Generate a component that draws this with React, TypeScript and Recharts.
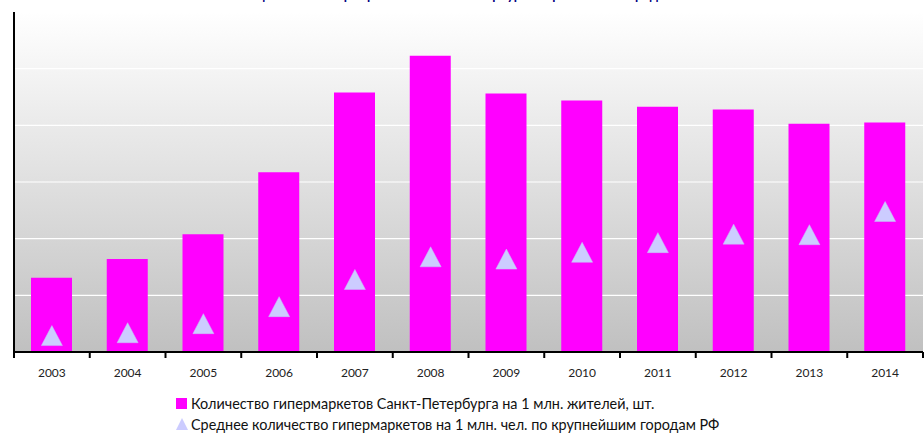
import React from 'react';
import { ComposedChart, Bar, Line, XAxis, YAxis, CartesianGrid, Legend, ReferenceLine } from 'recharts';

const years = ['2003', '2004', '2005', '2006', '2007', '2008', '2009', '2010', '2011', '2012', '2013', '2014'];
const spbValues = [1.31, 1.64, 2.08, 3.17, 4.58, 5.23, 4.56, 4.44, 4.33, 4.28, 4.03, 4.05];
const avgValues = [0.29, 0.34, 0.5, 0.8, 1.28, 1.68, 1.64, 1.76, 1.93, 2.08, 2.07, 2.48];
const yTicks = [0, 1, 2, 3, 4, 5, 6];
const gridValues = [1, 2, 3, 4, 5, 6];

const seriesSpb = 'Количество гипермаркетов Санкт-Петербурга на 1 млн. жителей, шт.';
const seriesAvg = 'Среднее количество гипермаркетов на 1 млн. чел. по крупнейшим городам РФ';
const title = 'Насыщенность гипермаркетами Санкт-Петербурга в сравнении с городами РФ';

const data = years.map((y, i) => ({ year: y, spb: spbValues[i], avg: avgValues[i] }));

const FONT = 'Lato, "Open Sans", sans-serif';

const TriangleDot = (props: any) => {
  const { cx, cy } = props;
  if (cx == null || cy == null) return null;
  return (
    <polygon
      points={`${cx},${cy - 10} ${cx + 10.5},${cy + 10} ${cx - 10.5},${cy + 10}`}
      fill="#CCCCFF"
      stroke="#C4C4F8"
      strokeWidth={0.5}
    />
  );
};

const XTick = (props: any) => {
  const { x, y, payload, index, visibleTicksCount } = props;
  const half = payload && payload.offset ? payload.offset : 0;
  const axisY = y - 16;
  const isLast = visibleTicksCount != null ? index === visibleTicksCount - 1 : payload.value === years[years.length - 1];
  return (
    <g>
      <line x1={x - half} x2={x - half} y1={axisY} y2={axisY + 6} stroke="#000" strokeWidth={2} />
      {isLast && <line x1={x + half} x2={x + half} y1={axisY} y2={axisY + 6} stroke="#000" strokeWidth={2} />}
      <text x={x} y={y} dy="0.71em" textAnchor="middle" fontFamily={FONT} fontSize={12} fill="#222">
        {payload.value}
      </text>
    </g>
  );
};

const LegendContent = () => (
  <div style={{ position: 'relative', width: 924, height: 40, fontFamily: FONT, fontSize: 14.4, color: '#111' }}>
    <div style={{ position: 'absolute', left: 176, top: 4, display: 'flex', alignItems: 'center', height: 14 }}>
      <span style={{ display: 'inline-block', width: 11, height: 11, background: '#FF00FF', marginRight: 4 }} />
      <span style={{ whiteSpace: 'nowrap' }}>{seriesSpb}</span>
    </div>
    <div style={{ position: 'absolute', left: 176, top: 25, display: 'flex', alignItems: 'center', height: 14 }}>
      <svg width={13} height={12} style={{ marginRight: 2 }}>
        <polygon points="6,0 12,12 0,12" fill="#CCCCFF" />
      </svg>
      <span style={{ whiteSpace: 'nowrap' }}>{seriesAvg}</span>
    </div>
  </div>
);

export default function App() {
  return (
    <div style={{ position: 'absolute', left: 0, top: 0, width: 924, height: 433, overflow: 'hidden', background: '#fff' }}>
      <div
        style={{
          position: 'absolute',
          left: 0,
          width: 924,
          top: -11,
          textAlign: 'center',
          fontFamily: FONT,
          fontWeight: 'bold',
          fontSize: 13,
          lineHeight: '13px',
          color: '#000080',
          whiteSpace: 'nowrap',
        }}
      >
        {title}
      </div>
      <ComposedChart width={924} height={433} data={data} margin={{ top: 12, right: 1, left: 0, bottom: 11 }}>
        <defs>
          <linearGradient id="plotBg" x1="0" y1="0" x2="0" y2="1">
            <stop offset="0%" stopColor="#FFFFFF" />
            <stop offset="100%" stopColor="#C0C0C0" />
          </linearGradient>
        </defs>
        <CartesianGrid vertical={false} horizontal={false} fill="url(#plotBg)" fillOpacity={1} />
        <CartesianGrid vertical={false} stroke="#FFFFFF" strokeWidth={1.2} strokeDasharray="" />
        {gridValues.map((v) => (
          <ReferenceLine key={v} y={v} stroke="#FFFFFF" strokeWidth={1.2} ifOverflow="visible" zIndex={-50} />
        ))}
        <XAxis
          dataKey="year"
          height={30}
          axisLine={{ stroke: '#000', strokeWidth: 2 }}
          tickLine={false}
          tickSize={0}
          tickMargin={16}
          interval={0}
          tick={<XTick />}
        />
        <YAxis
          domain={[0, 6]}
          ticks={yTicks}
          width={14}
          tick={false}
          tickSize={7}
          axisLine={{ stroke: '#000', strokeWidth: 2 }}
          tickLine={{ stroke: '#000', strokeWidth: 2 }}
          allowDataOverflow
        />
        <Legend
          verticalAlign="bottom"
          height={40}
          content={<LegendContent />}
          wrapperStyle={{ left: 0, top: 392, width: 924, height: 40 }}
        />
        <Bar dataKey="spb" name={seriesSpb} fill="#FF00FF" barSize={41} isAnimationActive={false} />
        <Line
          dataKey="avg"
          name={seriesAvg}
          stroke="none"
          strokeWidth={0}
          dot={<TriangleDot />}
          activeDot={false}
          legendType="triangle"
          isAnimationActive={false}
        />
      </ComposedChart>
    </div>
  );
}
